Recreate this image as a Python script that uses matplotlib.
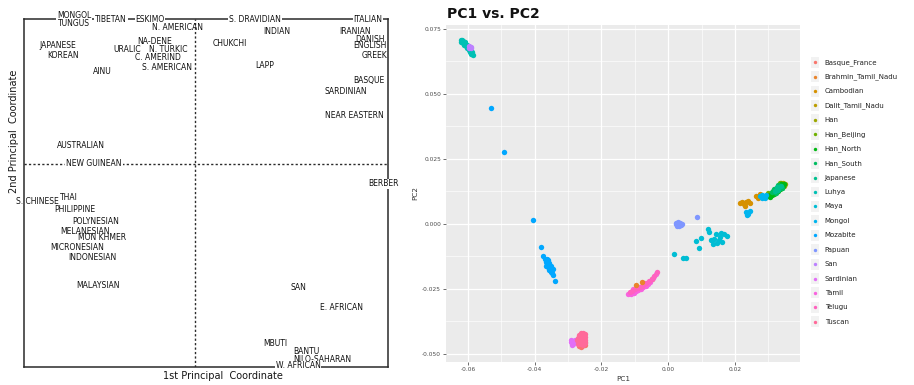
import numpy as np
import matplotlib
matplotlib.use("Agg")
import matplotlib.pyplot as plt
from matplotlib.patches import Rectangle

# ---------------- left panel: classic principal coordinate map ----------------
labels = ["MONGOL", "TUNGUS", "TIBETAN", "ESKIMO", "N. AMERICAN", "S. DRAVIDIAN",
          "ITALIAN", "INDIAN", "IRANIAN", "DANISH", "ENGLISH", "GREEK",
          "JAPANESE", "KOREAN", "NA-DENE", "URALIC", "N. TURKIC", "C. AMERIND",
          "S. AMERICAN", "CHUKCHI", "LAPP", "AINU", "BASQUE", "SARDINIAN",
          "NEAR EASTERN", "AUSTRALIAN", "NEW GUINEAN", "BERBER", "S. CHINESE",
          "THAI", "PHILIPPINE", "POLYNESIAN", "MELANESIAN", "MON KHMER",
          "MICRONESIAN", "INDONESIAN", "MALAYSIAN", "SAN", "E. AFRICAN",
          "MBUTI", "BANTU", "NILO-SAHARAN", "W. AFRICAN"]
coord1 = [-1.21, -1.21, -0.84, -0.45, -0.18, 0.60,
          1.73, 0.82, 1.60, 1.75, 1.75, 1.79,
          -1.37, -1.32, -0.40, -0.68, -0.27, -0.37,
          -0.28, 0.35, 0.70, -0.93, 1.74, 1.51,
          1.59, -1.14, -1.01, 1.88, -1.58,
          -1.26, -1.20, -0.99, -1.10, -0.93,
          -1.18, -1.03, -0.97, 1.03, 1.46,
          0.80, 1.11, 1.27, 1.03]
coord2 = [1.49, 1.40, 1.45, 1.45, 1.36, 1.45,
          1.45, 1.32, 1.32, 1.25, 1.18, 1.08,
          1.19, 1.09, 1.23, 1.15, 1.15, 1.07,
          0.97, 1.20, 0.98, 0.92, 0.84, 0.73,
          0.48, 0.18, 0.00, -0.20, -0.37,
          -0.33, -0.45, -0.57, -0.67, -0.73,
          -0.83, -0.94, -1.22, -1.24, -1.44,
          -1.80, -1.87, -1.95, -2.02]
# labels sitting on a frame / dashed line get a white background
on_line = ["MONGOL", "TIBETAN", "ESKIMO", "S. DRAVIDIAN", "ITALIAN",
           "NEW GUINEAN", "BERBER", "W. AFRICAN"]

# ---------------- right panel: PC1 vs PC2 ----------------
populations = ["Basque_France", "Brahmin_Tamil_Nadu", "Cambodian", "Dalit_Tamil_Nadu",
               "Han", "Han_Beijing", "Han_North", "Han_South", "Japanese", "Luhya",
               "Maya", "Mongol", "Mozabite", "Papuan", "San", "Sardinian", "Tamil",
               "Telugu", "Tuscan"]

basque_x = [-0.0266, -0.0258, -0.0250, -0.0262, -0.0254, -0.0248]
basque_y = [-0.0468, -0.0470, -0.0466, -0.0474, -0.0460, -0.0455]
brahmin_x = [-0.0096, -0.0079]
brahmin_y = [-0.0235, -0.0222]
cambodian_x = [0.0216, 0.0222, 0.0228, 0.0234, 0.0240, 0.0246, 0.0230, 0.0262, 0.0268, 0.0276]
cambodian_y = [0.0082, 0.0086, 0.0078, 0.0086, 0.0090, 0.0082, 0.0070, 0.0106, 0.0100, 0.0114]
dalit_x = [-0.0100, -0.0070, -0.0050]
dalit_y = [-0.0252, -0.0232, -0.0212]
han_x = [0.0344, 0.0350, 0.0348, 0.0338]
han_y = [0.0158, 0.0154, 0.0146, 0.0158]
han_beijing_x = [0.0300, 0.0336]
han_beijing_y = [0.0118, 0.0156]
han_north_x = [0.0298, 0.0304, 0.0310, 0.0316, 0.0322, 0.0328, 0.0334, 0.0340, 0.0346,
               0.0306, 0.0312, 0.0318, 0.0324, 0.0330, 0.0336, 0.0342,
               0.0314, 0.0320, 0.0326, 0.0332, 0.0338, 0.0344]
han_north_y = [0.0106, 0.0112, 0.0118, 0.0124, 0.0130, 0.0136, 0.0142, 0.0148, 0.0152,
               0.0104, 0.0110, 0.0116, 0.0122, 0.0128, 0.0134, 0.0140,
               0.0128, 0.0134, 0.0140, 0.0146, 0.0152, 0.0146]
han_south_x = [0.0310, 0.0322, 0.0334, 0.0328, 0.0316, 0.0340]
han_south_y = [0.0124, 0.0120, 0.0144, 0.0150, 0.0134, 0.0138]
japanese_x = [0.0320, 0.0330, 0.0338, 0.0326]
japanese_y = [0.0126, 0.0132, 0.0144, 0.0142]
luhya_x = [-0.0622, -0.0618, -0.0614, -0.0610, -0.0620, -0.0615, -0.0608, -0.0604,
           -0.0612, -0.0606, -0.0600, -0.0596, -0.0603, -0.0598, -0.0592, -0.0588,
           -0.0595, -0.0590, -0.0586, -0.0600, -0.0611, -0.0617]
luhya_y = [0.0706, 0.0708, 0.0704, 0.0700, 0.0700, 0.0696, 0.0694, 0.0690,
           0.0688, 0.0684, 0.0680, 0.0676, 0.0676, 0.0670, 0.0666, 0.0660,
           0.0662, 0.0654, 0.0650, 0.0686, 0.0693, 0.0702]
maya_x = [0.0018, 0.0044, 0.0054, 0.0083, 0.0098, 0.0091, 0.0118, 0.0121, 0.0128,
          0.0136, 0.0134, 0.0146, 0.0144, 0.0154, 0.0158, 0.0151, 0.0161, 0.0168, 0.0176]
maya_y = [-0.0117, -0.0130, -0.0132, -0.0065, -0.0053, -0.0094, -0.0021, -0.0032, -0.0062,
          -0.0058, -0.0077, -0.0074, -0.0040, -0.0049, -0.0036, -0.0062, -0.0068, -0.0038, -0.0046]
mongol_x = [0.0276, 0.0282, 0.0288, 0.0294, 0.0280, 0.0290, 0.0234, 0.0240, 0.0246, 0.0236]
mongol_y = [0.0108, 0.0112, 0.0104, 0.0110, 0.0100, 0.0098, 0.0044, 0.0040, 0.0048, 0.0036]
mozabite_x = [-0.0531, -0.0492, -0.0405,
              -0.0382, -0.0376, -0.0370, -0.0364, -0.0360, -0.0367, -0.0362, -0.0356,
              -0.0360, -0.0354, -0.0350, -0.0357, -0.0350, -0.0346, -0.0348, -0.0344,
              -0.0338, -0.0365, -0.0352]
mozabite_y = [0.0447, 0.0277, 0.0015,
              -0.0090, -0.0122, -0.0136, -0.0134, -0.0140, -0.0148, -0.0155, -0.0150,
              -0.0165, -0.0170, -0.0160, -0.0178, -0.0180, -0.0175, -0.0190, -0.0196,
              -0.0218, -0.0160, -0.0185]
papuan_x = [0.0024, 0.0030, 0.0036, 0.0022, 0.0028, 0.0034, 0.0040, 0.0026, 0.0032, 0.0038, 0.0086]
papuan_y = [0.0004, 0.0006, 0.0004, -0.0002, -0.0002, -0.0002, 0.0000, -0.0008, -0.0008, -0.0006, 0.0026]
san_x = [-0.0598, -0.0594, -0.0590, -0.0596, -0.0590]
san_y = [0.0684, 0.0680, 0.0676, 0.0676, 0.0682]
sardinian_x = [-0.0290, -0.0284, -0.0292, -0.0286, -0.0280, -0.0278, -0.0288]
sardinian_y = [-0.0445, -0.0450, -0.0455, -0.0460, -0.0456, -0.0448, -0.0464]
tamil_x = [-0.0120, -0.0112, -0.0104, -0.0096, -0.0090, -0.0082, -0.0076, -0.0068,
           -0.0062, -0.0054, -0.0046, -0.0038, -0.0106]
tamil_y = [-0.0270, -0.0268, -0.0264, -0.0258, -0.0255, -0.0250, -0.0244, -0.0238,
           -0.0230, -0.0224, -0.0208, -0.0192, -0.0250]
telugu_x = [-0.0116, -0.0108, -0.0100, -0.0092, -0.0086, -0.0080, -0.0072, -0.0066,
            -0.0058, -0.0050, -0.0042, -0.0034, -0.0098, -0.0074]
telugu_y = [-0.0262, -0.0258, -0.0252, -0.0246, -0.0243, -0.0238, -0.0232, -0.0226,
            -0.0220, -0.0212, -0.0200, -0.0186, -0.0246, -0.0226]
tuscan_x = [-0.0262, -0.0256, -0.0250, -0.0266, -0.0258, -0.0250, -0.0270, -0.0262,
            -0.0254, -0.0248, -0.0274, -0.0266, -0.0258, -0.0250, -0.0270, -0.0262, -0.0254]
tuscan_y = [-0.0418, -0.0420, -0.0425, -0.0428, -0.0432, -0.0436, -0.0438, -0.0442,
            -0.0445, -0.0448, -0.0448, -0.0452, -0.0455, -0.0458, -0.0460, -0.0462, -0.0465]

series = [(basque_x, basque_y), (brahmin_x, brahmin_y), (cambodian_x, cambodian_y),
          (dalit_x, dalit_y), (han_x, han_y), (han_beijing_x, han_beijing_y),
          (han_north_x, han_north_y), (han_south_x, han_south_y),
          (japanese_x, japanese_y), (luhya_x, luhya_y), (maya_x, maya_y),
          (mongol_x, mongol_y), (mozabite_x, mozabite_y), (papuan_x, papuan_y),
          (san_x, san_y), (sardinian_x, sardinian_y), (tamil_x, tamil_y),
          (telugu_x, telugu_y), (tuscan_x, tuscan_y)]


def hcl_hex(h, c=100.0, l=65.0):
    # ggplot2 hue palette colour (polar Luv -> sRGB)
    hr = np.radians(h)
    u, v = c * np.cos(hr), c * np.sin(hr)
    xn, yn, zn = 95.047, 100.0, 108.883
    den = xn + 15 * yn + 3 * zn
    un, vn = 4 * xn / den, 9 * yn / den
    Y = yn * ((l + 16) / 116) ** 3
    up, vp = u / (13 * l) + un, v / (13 * l) + vn
    X = 9 * Y * up / (4 * vp)
    Z = Y * (12 - 3 * up - 20 * vp) / (4 * vp)
    X, Y, Z = X / 100, Y / 100, Z / 100
    rgb = np.array([3.240479 * X - 1.537150 * Y - 0.498535 * Z,
                    -0.969256 * X + 1.875992 * Y + 0.041556 * Z,
                    0.055648 * X - 0.204043 * Y + 1.057311 * Z])
    rgb = np.where(rgb <= 0.0031308, 12.92 * rgb, 1.055 * np.abs(rgb) ** (1 / 2.4) - 0.055)
    return tuple(np.clip(rgb, 0, 1))


n = len(populations)
colors = [hcl_hex(15 + i * 360.0 / n) for i in range(n)]

W, H = 914, 385
fig = plt.figure(figsize=(W / 100, H / 100), dpi=100)


def box(x0, y0, x1, y1):
    return [x0 / W, 1 - y1 / H, (x1 - x0) / W, (y1 - y0) / H]


# ---- left ----
axl = fig.add_axes(box(24, 19, 388, 367))
axl.set_xlim(-1.71, 1.93)
axl.set_ylim(-2.03, 1.45)
for s in axl.spines.values():
    s.set_linewidth(1.1)
    s.set_color("#2a2a2a")
axl.set_xticks([])
axl.set_yticks([])
axl.axvline(0, color="#2a2a2a", lw=1.0, ls=(0, (1.6, 1.6)))
axl.axhline(0, color="#2a2a2a", lw=1.0, ls=(0, (1.6, 1.6)))
for name, cx, cy in zip(labels, coord1, coord2):
    kw = {}
    if name in on_line:
        kw["bbox"] = dict(facecolor="white", edgecolor="none", pad=0.6)
    axl.text(cx, cy, name, ha="center", va="center", fontsize=5.5,
             color="#111111", clip_on=False, zorder=4, **kw)
fig.text(14 / W, 1 - 131 / H, "2nd Principal  Coordinate", rotation=90,
         ha="center", va="center", fontsize=7, color="#151515")
fig.text(223 / W, 1 - 376 / H, "1st Principal  Coordinate",
         ha="center", va="center", fontsize=7, color="#151515")

# ---- right ----
axr = fig.add_axes(box(446, 25, 800, 362))
axr.set_facecolor("#EBEBEB")
for s in axr.spines.values():
    s.set_visible(False)
axr.set_xlim(-0.0666, 0.0395)
axr.set_ylim(-0.0531, 0.0765)
xt = [-0.06, -0.04, -0.02, 0.0, 0.02]
yt = [-0.05, -0.025, 0.0, 0.025, 0.05, 0.075]
axr.set_xticks(xt)
axr.set_xticklabels(["-0.06", "-0.04", "-0.02", "0.00", "0.02"])
axr.set_yticks(yt)
axr.set_yticklabels(["-0.050", "-0.025", "0.000", "0.025", "0.050", "0.075"])
axr.set_xticks([-0.05, -0.03, -0.01, 0.01, 0.03], minor=True)
axr.set_yticks([-0.0375, -0.0125, 0.0125, 0.0375, 0.0625], minor=True)
axr.grid(which="major", color="white", lw=0.9)
axr.grid(which="minor", color="white", lw=0.45)
axr.set_axisbelow(True)
axr.tick_params(which="major", length=2, width=0.5, color="#333333",
                labelsize=4.2, labelcolor="#4D4D4D", pad=1.5)
axr.tick_params(which="minor", length=0)
axr.set_xlabel("PC1", fontsize=5.2, color="#333333", labelpad=3)
axr.set_ylabel("PC2", fontsize=5.2, color="#333333", labelpad=3)

for i, (px, py) in enumerate(series):
    z = 3 if populations[i] == "Brahmin_Tamil_Nadu" else 2
    axr.scatter(px, py, s=15, color=colors[i], linewidths=0, zorder=z)

fig.text(447 / W, 1 - 14 / H, "PC1 vs. PC2", ha="left", va="center",
         fontsize=10, fontweight="bold", color="#111111")

# ---- legend ----
axg = fig.add_axes(box(810, 55, 912, 329))
axg.set_xlim(0, 10)
axg.set_ylim(n - 0.5, -0.5)
axg.axis("off")
for i, name in enumerate(populations):
    axg.add_patch(Rectangle((0.1, i - 0.38), 0.75, 0.76, facecolor="#F2F2F2",
                            edgecolor="none"))
    axg.scatter([0.475], [i], s=6, color=colors[i], linewidths=0)
    axg.text(1.45, i, name, ha="left", va="center", fontsize=5.0, color="#222222")

fig.savefig("out.png", dpi=100)
